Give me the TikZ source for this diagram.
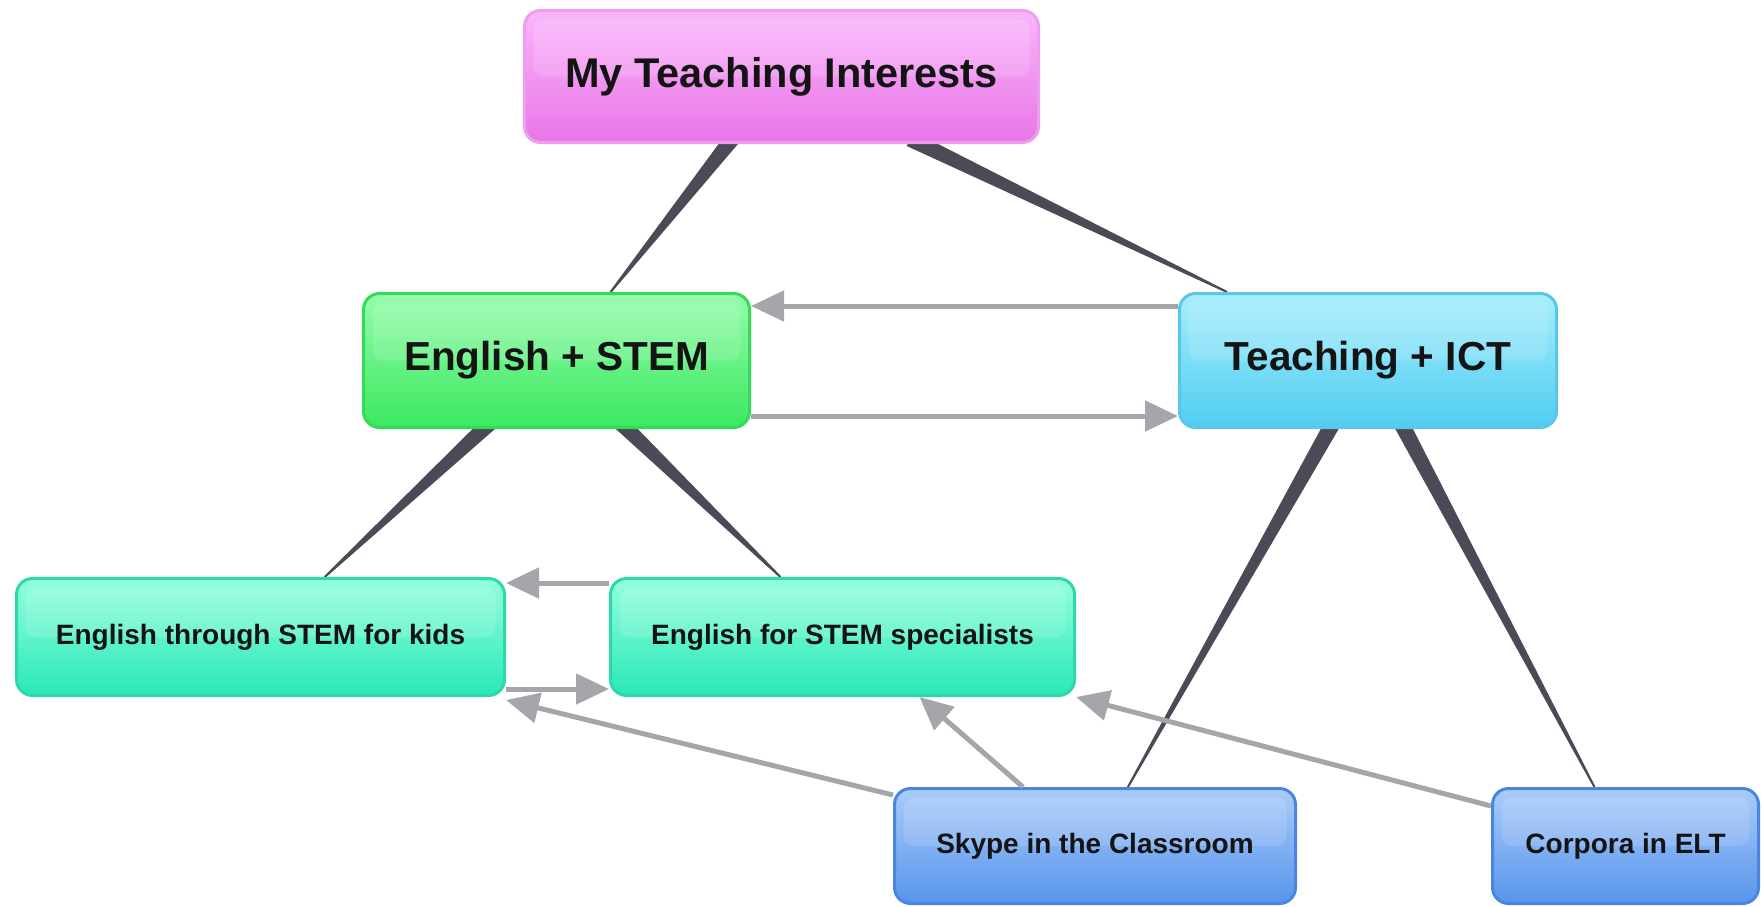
\documentclass[tikz,border=0pt]{standalone}
\usepackage{fontspec}
\setmainfont{Liberation Sans}
\usetikzlibrary{arrows.meta,calc,backgrounds}
\definecolor{rootTop}{RGB}{250,182,250}
\definecolor{rootBot}{RGB}{232,118,232}
\definecolor{rootLine}{RGB}{238,158,238}
\definecolor{stemTop}{RGB}{150,252,172}
\definecolor{stemBot}{RGB}{58,232,96}
\definecolor{stemLine}{RGB}{52,218,88}
\definecolor{ictTop}{RGB}{168,238,253}
\definecolor{ictBot}{RGB}{80,205,240}
\definecolor{ictLine}{RGB}{92,198,230}
\definecolor{subTop}{RGB}{148,255,222}
\definecolor{subBot}{RGB}{42,232,184}
\definecolor{subLine}{RGB}{45,216,170}
\definecolor{toolTop}{RGB}{170,204,250}
\definecolor{toolBot}{RGB}{88,148,236}
\definecolor{toolLine}{RGB}{74,134,224}
\definecolor{taperGray}{RGB}{74,75,86}
\definecolor{linkGray}{RGB}{165,166,172}
\newcommand\taper[2]{%
  \path (#1) -- (#2) coordinate[pos=0] (tA) coordinate[pos=1] (tB);
  \coordinate (tC) at ($(tA)!-12pt!(tB)$);
  \fill[taperGray] ($(tC)!8pt!90:(tB)$) -- ($(tB)!1pt!-90:(tC)$) -- ($(tB)!1pt!90:(tC)$) -- ($(tC)!8pt!-90:(tB)$) -- cycle;}
\begin{document}
\begin{tikzpicture}[x=1pt, y=-1pt,
  box/.style={rounded corners=16pt, line width=3pt, inner sep=0pt, align=center, text=black!92,
    path picture={\fill[white,opacity=0.13,rounded corners=10pt]
      ([shift={(9pt,-9pt)}]path picture bounding box.north west) rectangle
      ([shift={(-9pt,0pt)}]path picture bounding box.east);}},
  rootbox/.style={box, draw=rootLine, top color=rootTop, bottom color=rootBot,
    font=\fontsize{41.5}{48}\selectfont\bfseries},
  stembox/.style={box, draw=stemLine, top color=stemTop, bottom color=stemBot,
    font=\fontsize{40.5}{48}\selectfont\bfseries},
  ictbox/.style={box, draw=ictLine, top color=ictTop, bottom color=ictBot,
    font=\fontsize{40.5}{48}\selectfont\bfseries},
  subbox/.style={box, draw=subLine, top color=subTop, bottom color=subBot,
    minimum height=117pt, font=\fontsize{28}{34}\selectfont\bfseries},
  toolbox/.style={box, draw=toolLine, top color=toolTop, bottom color=toolBot,
    minimum height=115pt, font=\fontsize{28}{34}\selectfont\bfseries},
  link/.style={draw=linkGray, line width=5pt, -{Triangle[length=33pt,width=30pt]}}]
\useasboundingbox (0,0) rectangle (1763,906);

\node[rootbox, minimum width=514pt, minimum height=132pt] (root) at (781.5,76.5) {My Teaching Interests};
\node[stembox, minimum width=386pt, minimum height=134pt] (es) at (556.5,360.5) {English + STEM};
\node[ictbox, minimum width=377pt, minimum height=134pt] (ti) at (1368,360.5) {Teaching + ICT};
\node[subbox, minimum width=488pt] (kids) at (260.5,637) {English through STEM for kids};
\node[subbox, minimum width=464pt] (spec) at (842.5,637) {English for STEM specialists};
\node[toolbox, minimum width=401pt] (skype) at (1095,846) {Skype in the Classroom};
\node[toolbox, minimum width=266pt] (corpora) at (1625.5,846) {Corpora in ELT};

\begin{scope}[on background layer]
\taper{root}{es}
\taper{root}{ti}
\taper{es}{kids}
\taper{es}{spec}
\taper{ti}{skype}
\taper{ti}{corpora}
\end{scope}

\draw[link] ([yshift=-14pt]ti.north west) -- ([yshift=-14pt]es.north east);
\draw[link] ([yshift=13pt]es.south east) -- ([yshift=13pt]ti.south west);
\draw[link] ([yshift=-6pt]spec.north west) -- ([yshift=-6pt]kids.north east);
\draw[link] ([yshift=8pt]kids.south east) -- ([yshift=8pt]spec.south west);
\draw[link] ([yshift=-8pt]skype.north west) -- ([yshift=-3pt]kids.south east);
\draw[link] ([xshift=-72pt]skype.north) -- ([xshift=77pt]spec.south);
\draw[link] ([yshift=-19pt]corpora.north west) -- (spec.south east);
\end{tikzpicture}
\end{document}
